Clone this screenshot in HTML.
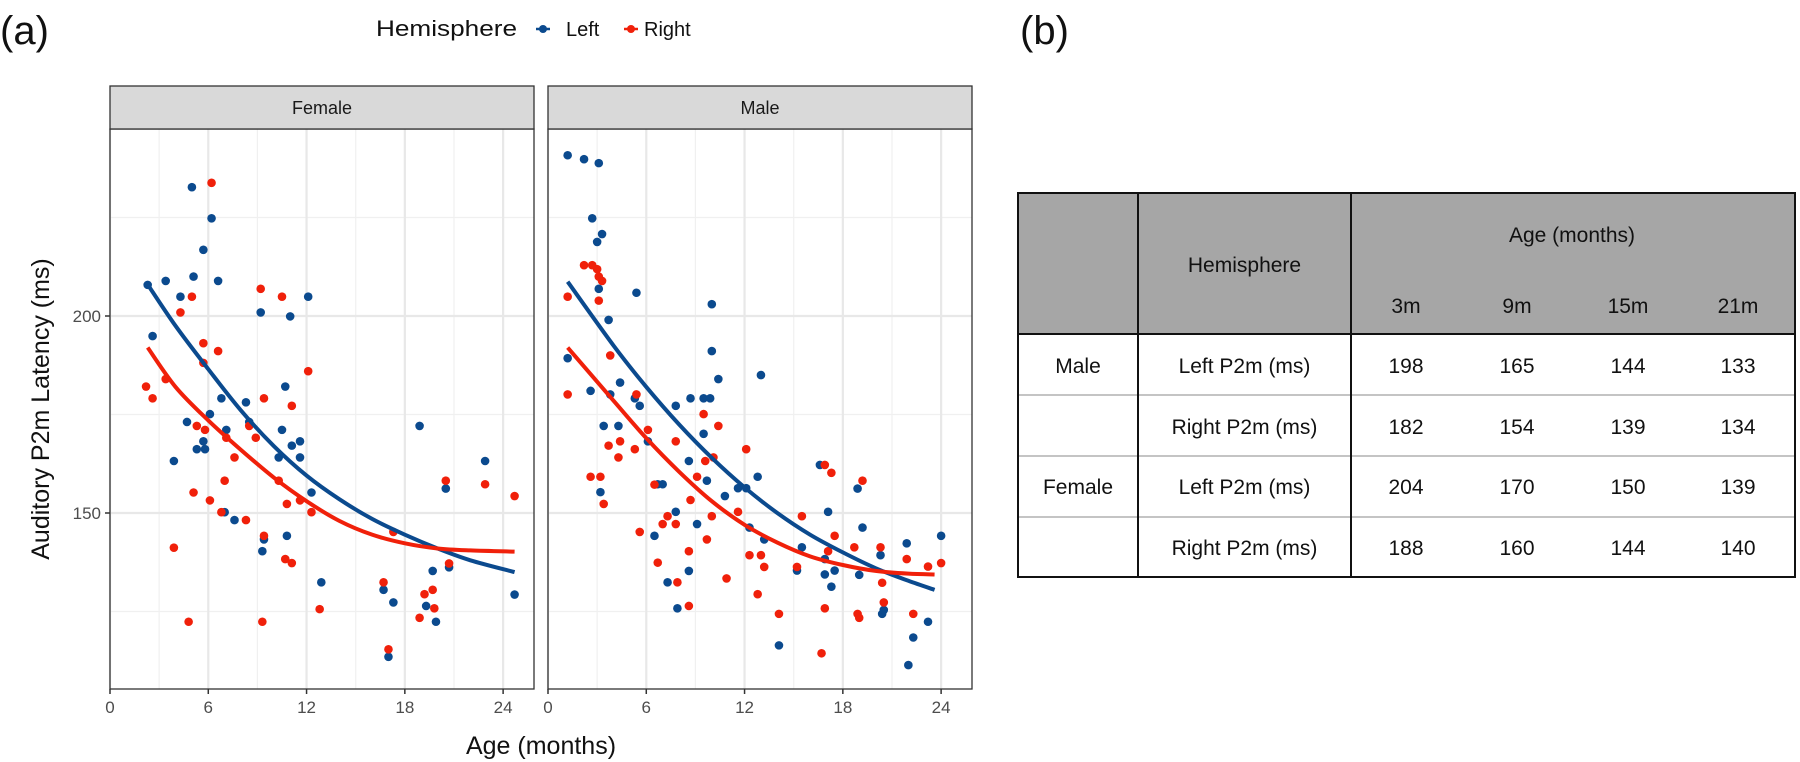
<!DOCTYPE html>
<html><head><meta charset="utf-8"><style>
html,body{margin:0;padding:0;background:#fff;width:1800px;height:762px;overflow:hidden}
svg{display:block;font-family:"Liberation Sans",sans-serif}
</style></head><body>
<svg id="fig" width="1800" height="762" viewBox="0 0 1800 762">
<text x="0" y="44" font-size="40" fill="#111">(a)</text>
<text x="1020" y="44" font-size="40" fill="#111">(b)</text>
<g>
<text x="376" y="36" font-size="22" textLength="141" lengthAdjust="spacingAndGlyphs" fill="#111">Hemisphere</text>
<g><line x1="536" y1="29" x2="550" y2="29" stroke="#0b4a8e" stroke-width="2.5"/><circle cx="543" cy="29" r="4" fill="#0b4a8e"/><text x="566" y="36" font-size="20" fill="#111">Left</text></g>
<g><line x1="624" y1="29" x2="638" y2="29" stroke="#f0200a" stroke-width="2.5"/><circle cx="631" cy="29" r="4" fill="#f0200a"/><text x="644" y="36" font-size="20" fill="#111">Right</text></g>
</g>
<g id="chart"></g>
<g id="table"></g>
</svg>
<script>
const NS="http://www.w3.org/2000/svg";
const xTicks=[0,6,12,18,24];
const xMinor=[3,9,15,21];
const yTicks=[150,200];
const yMinor=[125,175,225];
const facets=["Female","Male"];
// Female points [age, ms]
const femaleLeftAge=[5.0,6.2,5.7,5.1,3.4,6.6,4.3,2.3,9.2,11.0,12.1,2.6,6.8,8.3,10.7,6.1,4.7,8.5,7.1,10.5,5.7,5.3,5.8,11.1,11.6,10.3,11.6,3.9,12.3,18.9,20.5,7.0,7.6,9.4,9.3,10.8,12.9,16.7,17.3,19.7,20.7,19.3,19.9,17.0,24.7,22.9];
const femaleLeftMs=[232.7,224.8,216.8,210,208.9,208.9,204.9,207.9,200.9,199.9,204.9,194.9,179.1,178.1,182.1,175.1,173.1,173.1,171.1,171.1,168.2,166.2,166.2,167.1,168.2,164.1,164.1,163.2,155.2,172.1,156.2,150.2,148.2,143.3,140.3,144.2,132.4,130.5,127.3,135.3,136.2,126.4,122.4,113.5,129.3,163.2];
const femaleRightAge=[6.2,5.0,4.3,9.2,10.5,5.7,6.6,5.7,12.1,2.2,3.4,2.6,9.4,11.1,5.3,5.8,7.1,8.5,8.9,7.6,7.0,10.3,5.1,6.1,10.8,11.6,12.3,6.8,8.3,3.9,9.4,10.7,11.1,17.3,20.5,20.7,16.7,19.2,19.7,12.8,19.8,18.9,4.8,9.3,17.0,22.9,24.7];
const femaleRightMs=[233.8,204.9,200.9,206.9,204.9,193.1,191.1,188.1,186.0,182.1,184.0,179.1,179.1,177.2,172.1,171.1,169.1,172.1,169.1,164.1,158.2,158.2,155.2,153.2,152.3,153.2,150.2,150.2,148.2,141.2,144.2,138.3,137.3,145.2,158.2,137.2,132.4,129.4,130.5,125.6,125.8,123.4,122.4,122.4,115.4,157.3,154.3];
// Male points
const maleLeftAge=[1.2,2.2,3.1,2.7,3.3,3.0,3.1,5.4,3.7,10.0,10.0,1.2,10.4,13.0,2.6,4.4,3.8,5.3,5.6,7.8,8.7,9.5,9.9,3.4,4.3,6.1,9.5,8.6,3.2,6.7,7.0,9.7,10.8,11.6,12.1,12.8,7.8,9.1,6.5,12.3,13.2,16.6,17.1,15.5,16.9,15.2,16.9,17.3,17.5,8.6,7.3,7.9,14.1,19.0,20.4,20.5,18.9,19.2,20.3,21.9,24.0,23.2,22.3,22.0];
const maleLeftMs=[240.8,239.8,238.8,224.8,220.8,218.8,206.9,205.9,199.0,203.0,191.1,189.3,184.0,185.0,181.0,183.1,180.1,179.1,177.2,177.2,179.1,179.1,179.1,172.1,172.1,168.2,170.1,163.2,155.3,157.3,157.3,158.2,154.3,156.3,156.3,159.2,150.3,147.2,144.2,146.3,143.3,162.2,150.3,141.3,138.3,135.4,134.4,131.3,135.4,135.3,132.4,125.8,116.4,134.3,124.4,125.4,156.2,146.3,139.3,142.3,144.2,122.4,118.4,111.4];
const maleRightAge=[2.2,2.7,3.0,3.1,3.3,1.2,3.1,3.8,1.2,5.4,9.5,10.4,6.1,4.4,3.7,5.3,4.3,7.8,12.1,9.6,10.1,2.6,3.2,3.4,6.5,9.1,8.7,10.0,11.6,7.3,7.0,7.8,5.6,9.7,8.6,6.7,12.3,13.0,13.2,15.5,16.9,17.3,17.5,17.1,15.2,10.9,7.9,12.8,8.6,16.9,14.1,16.7,18.9,19.0,20.4,20.5,19.2,18.7,20.3,21.9,24.0,23.2,22.3];
const maleRightMs=[212.9,212.9,211.9,210,208.9,204.9,203.9,190.0,180.1,180.1,175.1,172.1,171.1,168.2,167.1,166.2,164.1,168.2,166.2,163.2,164.1,159.2,159.2,152.3,157.2,159.2,153.3,149.2,150.3,149.2,147.2,147.2,145.2,143.3,140.3,137.4,139.3,139.3,136.3,149.2,162.2,160.2,144.2,140.3,136.3,133.4,132.4,129.4,126.4,125.8,124.4,114.4,124.4,123.4,132.3,127.3,158.2,141.3,141.3,138.3,137.3,136.4,124.4];
// Smooth fits
const femaleLeftFitAge=[2.3,4,6,8,10,12,14,16,18,20,22,24.7];
const femaleLeftFit=[208,197.5,186.5,176,167,159.5,153.5,148.5,144.5,141,138,135];
const femaleRightFitAge=[2.3,4,6,8,10,12,14,16,18,20,22,24.7];
const femaleRightFit=[192,182,173.5,166,159,153,148,144.5,142.3,141,140.5,140.2];
const maleLeftFitAge=[1.2,4,6,8,10,12,14,16,18,20,22,23.6];
const maleLeftFit=[208.7,192.5,182,172.5,164,156.5,150,144.5,140,136,132.8,130.5];
const maleRightFitAge=[1.2,4,6,8,10,12,14,16,18,20,22,23.6];
const maleRightFit=[192,178.5,169,160.5,153,147,142.5,139,136.8,135.3,134.6,134.4];

const BLUE="#0b4a8e", RED="#f0200a";
const panelLeft=[110,548], panelW=424, pTop=129, pBot=689;
function xScale(p,m){return panelLeft[p]+m*16.38;}
function yScale(v){return 316-(v-200)*3.94;}
const chart=document.getElementById('chart');
function mk(tag,attrs,parent){const e=document.createElementNS(NS,tag);for(const k in attrs)e.setAttribute(k,attrs[k]);(parent||chart).appendChild(e);return e;}

facets.forEach((f,p)=>{
  const L=panelLeft[p],R=L+panelW;
  const g=mk('g',{});
  
  
  yMinor.forEach(v=>{const l=mk('line',{x1:L,x2:R,y1:yScale(v),y2:yScale(v),stroke:'#f0f0f0','stroke-width':1.2},g);});
  xMinor.forEach(v=>{const l=mk('line',{x1:xScale(p,v),x2:xScale(p,v),y1:pTop,y2:pBot,stroke:'#f0f0f0','stroke-width':1.2},g);});
  yTicks.forEach(v=>{const l=mk('line',{x1:L,x2:R,y1:yScale(v),y2:yScale(v),stroke:'#e8e8e8','stroke-width':2.2},g);});
  xTicks.forEach(v=>{const l=mk('line',{x1:xScale(p,v),x2:xScale(p,v),y1:pTop,y2:pBot,stroke:'#e8e8e8','stroke-width':2.2},g);
    const t=mk('line',{x1:xScale(p,v),x2:xScale(p,v),y1:pBot,y2:pBot+5,stroke:'#333','stroke-width':1.5},g);
    const tx=mk('text',{x:xScale(p,v),y:pBot+24,'font-size':17,fill:'#4d4d4d','text-anchor':'middle'},g);tx.textContent=v;});
  const pts=p===0?[[femaleLeftAge,femaleLeftMs,BLUE,'left'],[femaleRightAge,femaleRightMs,RED,'right']]:[[maleLeftAge,maleLeftMs,BLUE,'left'],[maleRightAge,maleRightMs,RED,'right']];
  pts.forEach(([xs,ys,c,h])=>{xs.forEach((a,i)=>{const d=mk('circle',{cx:xScale(p,a),cy:yScale(ys[i]),r:4.3,fill:c},g);});});
  const fits=p===0?[[femaleLeftFitAge,femaleLeftFit,BLUE,'left'],[femaleRightFitAge,femaleRightFit,RED,'right']]:[[maleLeftFitAge,maleLeftFit,BLUE,'left'],[maleRightFitAge,maleRightFit,RED,'right']];
  fits.forEach(([xs,ys,c,h])=>{
    const P=xs.map((a,i)=>[xScale(p,a),yScale(ys[i])]);
    let d='M'+P[0][0]+','+P[0][1];
    for(let i=0;i<P.length-1;i++){const p0=P[i-1]||P[i],p1=P[i],p2=P[i+1],p3=P[i+2]||p2;
      d+=' C'+(p1[0]+(p2[0]-p0[0])/6)+','+(p1[1]+(p2[1]-p0[1])/6)+' '+(p2[0]-(p3[0]-p1[0])/6)+','+(p2[1]-(p3[1]-p1[1])/6)+' '+p2[0]+','+p2[1];}
    const path=mk('path',{d:d,fill:'none',stroke:c,'stroke-width':4,'stroke-linecap':'butt'},g);
    
    
  });
  const b=mk('rect',{x:L,y:pTop,width:panelW,height:pBot-pTop,fill:'none',stroke:'#333','stroke-width':1.3},g);
  
  const s=mk('rect',{x:L,y:86,width:panelW,height:43,fill:'#d9d9d9',stroke:'#333','stroke-width':1.3},g);
  
  const st=mk('text',{x:L+panelW/2,y:114,'font-size':18,fill:'#1a1a1a','text-anchor':'middle'},g);st.textContent=f;
  
});
yTicks.forEach(v=>{
  const t=mk('line',{x1:105,x2:110,y1:yScale(v),y2:yScale(v),stroke:'#333','stroke-width':1.5});
  const tx=mk('text',{x:101,y:yScale(v)+6,'font-size':17,fill:'#4d4d4d','text-anchor':'end'});tx.textContent=v;
});
const yt=mk('text',{x:0,y:0,'font-size':25,fill:'#111','text-anchor':'middle',transform:'translate(49,409) rotate(-90)'});
yt.textContent='Auditory P2m Latency (ms)';
const xt=mk('text',{x:541,y:754,'font-size':25,fill:'#111','text-anchor':'middle'});
xt.textContent='Age (months)';

// Table
const tcols=["3m","9m","15m","21m"];
const tsex=["Male","","Female",""];
const themi=["Left P2m (ms)","Right P2m (ms)","Left P2m (ms)","Right P2m (ms)"];
const tvals=[[198,165,144,133],[182,154,139,134],[204,170,150,139],[188,160,144,140]];
const T=document.getElementById('table');
const TL=1018,TR=1795,TT=193,TH=334,TB=577,c1=1138,c2=1351,colX=[1406,1517,1628,1738],rowY=[366,427,487,548],rowLines=[395,456,517];
mk('rect',{x:TL,y:TT,width:TR-TL,height:TH-TT,fill:'#a6a6a6'},T);
rowLines.forEach(y=>{const l=mk('line',{x1:TL,x2:TR,y1:y,y2:y,stroke:'#c4c4c4','stroke-width':2},T);});
[c1,c2].forEach(x=>mk('line',{x1:x,x2:x,y1:TT,y2:TB,stroke:'#111','stroke-width':2},T));
mk('line',{x1:TL,x2:TR,y1:TH,y2:TH,stroke:'#111','stroke-width':2},T);
mk('rect',{x:TL,y:TT,width:TR-TL,height:TB-TT,fill:'none',stroke:'#111','stroke-width':2},T);
function tt(x,y,s,n){const e=mk('text',{x:x,y:y+7,'font-size':21,fill:'#111','text-anchor':'middle'},T);e.textContent=s;return e;}
tt((c1+c2)/2,265,'Hemisphere','header-hemisphere');
tt(1572,235,'Age (months)','header-age');
tcols.forEach((c,i)=>tt(colX[i],306,c,'header-col'));
tvals.forEach((r,ri)=>{
  if(tsex[ri])tt((TL+c1)/2,rowY[ri],tsex[ri],'row-sex-label');
  tt((c1+c2)/2,rowY[ri],themi[ri],'row-hemisphere-label');
  r.forEach((v,ci)=>tt(colX[ci],rowY[ri],v,'table-cell'));
});
</script>
</body></html>
